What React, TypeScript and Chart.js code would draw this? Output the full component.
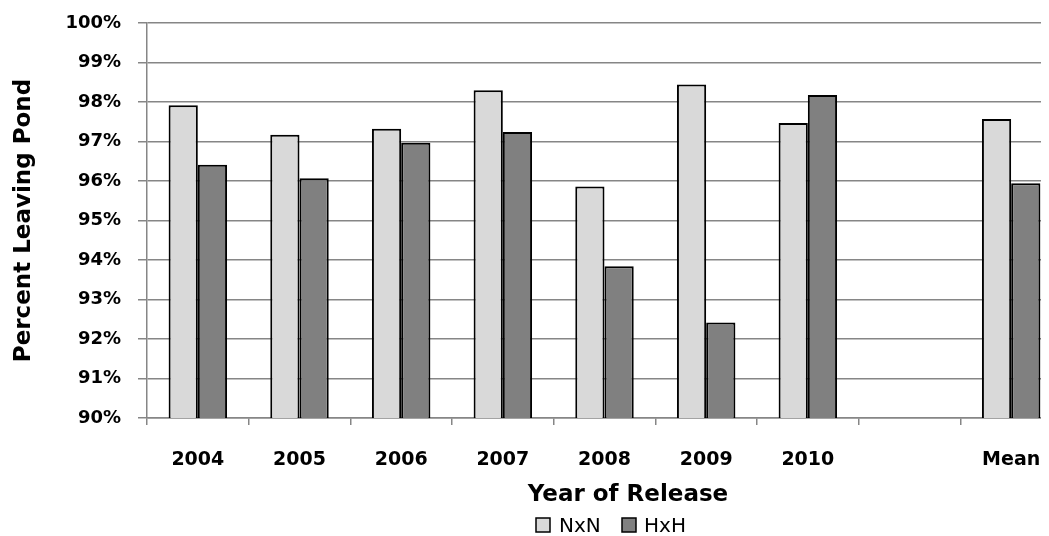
import React, { useEffect, useRef } from "react";
import { Chart, registerables } from "chart.js";

Chart.register(...registerables);

// ---- data ----
const categories = ["2004", "2005", "2006", "2007", "2008", "2009", "2010", "", "Mean"];
const nxnValues = [97.92, 97.17, 97.32, 98.3, 95.86, 98.44, 97.47, null, 97.57];
const hxhValues = [96.41, 96.07, 96.97, 97.24, 93.84, 92.42, 98.18, null, 95.94];
const seriesNames = ["NxN", "HxH"];
const seriesColors = ["#d9d9d9", "#808080"];
const yMin = 90;
const yMax = 100;
const yStep = 1;
const xAxisTitle = "Year of Release";
const yAxisTitle = "Percent Leaving Pond";

const FONT = "DejaVu Sans";
const GRID = "#868686";

const overlayPlugin = {
  id: "overlayText",
  afterDraw(chart: any) {
    const ctx = chart.ctx;
    ctx.save();
    // x axis title
    ctx.fillStyle = "#000";
    ctx.font = `bold 23px "${FONT}"`;
    ctx.textAlign = "center";
    ctx.textBaseline = "alphabetic";
    ctx.fillText(xAxisTitle, 620, 493);
    // legend
    ctx.font = `20px "${FONT}"`;
    ctx.textAlign = "left";
    const boxX = [528, 614];
    const textX = [551, 636];
    seriesNames.forEach((name, i) => {
      ctx.fillStyle = seriesColors[i];
      ctx.fillRect(boxX[i], 510, 14, 14);
      ctx.strokeStyle = "#000";
      ctx.lineWidth = 1.5;
      ctx.strokeRect(boxX[i], 510, 14, 14);
      ctx.fillStyle = "#000";
      ctx.fillText(name, textX[i], 524);
    });
    ctx.restore();
  },
};

export default function App() {
  const ref = useRef<HTMLCanvasElement | null>(null);
  useEffect(() => {
    if (!ref.current) return;
    const chart = new Chart(ref.current, {
      type: "bar",
      data: {
        labels: categories,
        datasets: [
          {
            label: seriesNames[0],
            data: nxnValues,
            backgroundColor: seriesColors[0],
            borderColor: "#000",
            borderWidth: 2,
            categoryPercentage: 0.575,
            barPercentage: 1,
          },
          {
            label: seriesNames[1],
            data: hxhValues,
            backgroundColor: seriesColors[1],
            borderColor: "#000",
            borderWidth: 2,
            categoryPercentage: 0.575,
            barPercentage: 1,
          },
        ],
      },
      options: {
        responsive: false,
        animation: false,
        layout: { padding: { top: 15, right: 16, left: 0, bottom: 0 } },
        plugins: {
          legend: { display: false },
          tooltip: { enabled: false },
          title: { display: false },
        },
        scales: {
          x: {
            grid: {
              display: true,
              drawOnChartArea: false,
              drawTicks: true,
              tickLength: 7,
              offset: true,
              color: GRID,
              lineWidth: 1.5,
            },
            border: { display: true, color: GRID, width: 1.5 },
            ticks: {
              color: "#000",
              font: { family: FONT, weight: "bold", size: 19 },
              padding: 24,
              maxRotation: 0,
              autoSkip: false,
            },
            afterFit: (s: any) => {
              s.height = 118;
            },
          },
          y: {
            min: yMin,
            max: yMax,
            ticks: {
              stepSize: yStep,
              color: "#000",
              font: { family: FONT, weight: "bold", size: 18 },
              padding: 17,
              callback: (v: any) => Math.round(Number(v)) + "%",
            },
            grid: { color: GRID, lineWidth: 1.5, tickLength: 9 },
            border: { color: GRID, width: 1.5 },
            title: {
              display: true,
              text: yAxisTitle,
              color: "#000",
              font: { family: FONT, weight: "bold", size: 23 },
              padding: { top: 2, bottom: 0 },
            },
            afterFit: (s: any) => {
              s.width = 139;
              s.paddingTop = 0;
              s.paddingBottom = 0;
            },
          },
        },
      },
      plugins: [overlayPlugin],
    } as any);
    return () => chart.destroy();
  }, []);

  return (
    <div style={{ width: 1041, height: 528, overflow: "hidden", position: "relative" }}>
      <canvas ref={ref} width={1070} height={528} style={{ display: "block" }} />
    </div>
  );
}
